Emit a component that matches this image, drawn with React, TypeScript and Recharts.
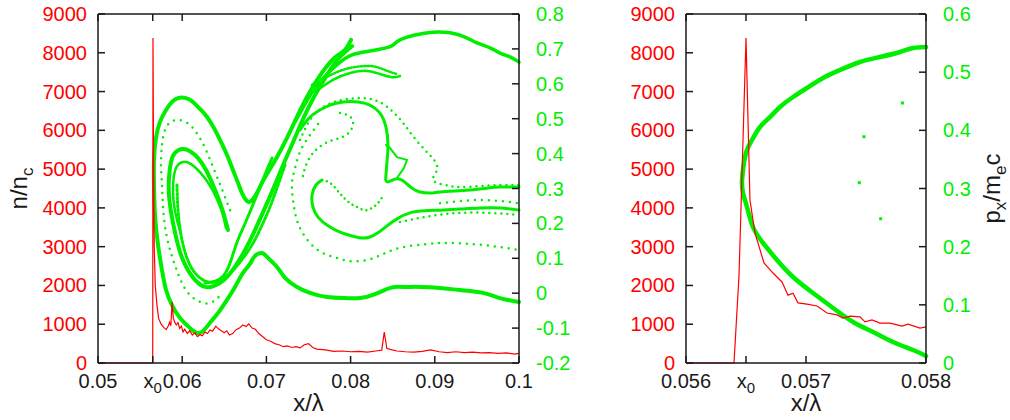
import React from 'react';
import { ComposedChart, Line, Scatter, XAxis, YAxis, ReferenceLine } from 'recharts';

// ---- data ----
const X0 = 0.0565;

const leftXTicks = [0.05, X0, 0.06, 0.07, 0.08, 0.09, 0.1];
const rightXTicks = [0.056, X0, 0.057, 0.058];
const densityTicks = [0, 1000, 2000, 3000, 4000, 5000, 6000, 7000, 8000, 9000];
const momentumTicksLeft = [-0.2, -0.1, 0, 0.1, 0.2, 0.3, 0.4, 0.5, 0.6, 0.7, 0.8];
const momentumTicksRight = [0, 0.1, 0.2, 0.3, 0.4, 0.5, 0.6];

// n/n_c along x, left panel
const densityLeft = [
  [0.05, 0], [0.0565, 0], [0.05653, 8380], [0.0566, 5200], [0.05668, 3000], [0.0568, 2000],
  [0.057, 1500], [0.0572, 1150], [0.0575, 1000], [0.0578, 920], [0.0581, 860], [0.05835, 960],
  [0.0585, 1050], [0.05865, 960], [0.0588, 1570], [0.05895, 1150], [0.0591, 1060], [0.0593, 980],
  [0.0595, 1040], [0.0597, 890], [0.0599, 950], [0.0601, 800], [0.0603, 870], [0.0606, 760],
  [0.0609, 830], [0.0612, 720], [0.0615, 780], [0.0618, 680], [0.0621, 730], [0.0624, 700],
  [0.0627, 800], [0.063, 760], [0.0633, 850], [0.0636, 820], [0.064, 950], [0.0643, 880],
  [0.0646, 840], [0.065, 780], [0.0653, 830], [0.0656, 720], [0.066, 760], [0.0664, 860],
  [0.0668, 900], [0.0672, 980], [0.0676, 940], [0.0679, 1010], [0.0683, 900], [0.0687, 870],
  [0.0691, 760], [0.0695, 690], [0.07, 600], [0.0705, 560], [0.071, 500], [0.0715, 470],
  [0.072, 420], [0.0725, 440], [0.073, 400], [0.0735, 420], [0.074, 390], [0.0745, 470],
  [0.075, 500], [0.0755, 400], [0.076, 360], [0.077, 340], [0.078, 300], [0.079, 310],
  [0.08, 290], [0.081, 300], [0.082, 280], [0.083, 310], [0.0837, 330], [0.084, 800],
  [0.0843, 380], [0.0847, 350], [0.0855, 310], [0.0865, 290], [0.0875, 280], [0.0885, 300],
  [0.0895, 340], [0.0905, 290], [0.0915, 270], [0.0925, 290], [0.0935, 270], [0.0945, 280],
  [0.0955, 260], [0.0965, 270], [0.0975, 250], [0.0985, 260], [0.0995, 230], [0.1, 250],
];

// n/n_c along x, right panel (zoom)
const densityRight = [
  [0.056, 0], [0.0564, 0], [0.056442, 2270], [0.0565, 8380], [0.056533, 4200], [0.056575, 3350],
  [0.05665, 2580], [0.056725, 2320], [0.0568, 2090], [0.05685, 1750], [0.056892, 1800],
  [0.056933, 1550], [0.057008, 1520], [0.057092, 1470], [0.057175, 1290], [0.057258, 1240],
  [0.057308, 1160], [0.057367, 1210], [0.05745, 1190], [0.057492, 1060], [0.05755, 1110],
  [0.057617, 1030], [0.0577, 1030], [0.0578, 950], [0.05785, 1000], [0.05795, 900], [0.058, 930],
];

// phase space p_x/m_e c, left panel
const outerOrbit = [
  [0.1, -0.025], [0.09774, -0.014], [0.09572, 0.001], [0.09299, 0.009], [0.09062, 0.015],
  [0.08824, 0.018], [0.0867, 0.018], [0.08527, 0.018], [0.08432, 0.012], [0.08266, -0.005],
  [0.08112, -0.014], [0.07933, -0.014], [0.0772, -0.011], [0.07518, 0.001], [0.07363, 0.018],
  [0.07221, 0.044], [0.07126, 0.075], [0.07007, 0.104], [0.06948, 0.115], [0.06865, 0.107],
  [0.06805, 0.084], [0.06722, 0.058], [0.06627, 0.018], [0.06532, -0.019], [0.06425, -0.057],
  [0.0633, -0.085], [0.06211, -0.114], [0.06093, -0.1], [0.05974, -0.071], [0.05879, -0.034],
  [0.05808, 0.009], [0.0576, 0.066], [0.05713, 0.138], [0.05677, 0.224], [0.05665, 0.31],
  [0.05665, 0.382], [0.05689, 0.445], [0.05736, 0.491], [0.05808, 0.525], [0.05879, 0.548],
  [0.0595, 0.559], [0.06045, 0.559], [0.06128, 0.548], [0.06211, 0.528], [0.06295, 0.505],
  [0.06378, 0.473], [0.06449, 0.439], [0.06532, 0.396], [0.06603, 0.353], [0.06663, 0.316],
  [0.0671, 0.287], [0.06758, 0.267], [0.06793, 0.261], [0.06841, 0.27], [0.069, 0.293],
  [0.0696, 0.322], [0.07043, 0.356], [0.07126, 0.39], [0.07245, 0.445], [0.07363, 0.505],
  [0.07482, 0.562], [0.07601, 0.611], [0.0772, 0.651], [0.07838, 0.68], [0.07933, 0.697],
  [0.08005, 0.726],
];
const topArc = [
  [0.0734, 0.491], [0.07458, 0.542], [0.07577, 0.588], [0.07696, 0.622], [0.0785, 0.657],
  [0.08017, 0.683], [0.0823, 0.694], [0.0842, 0.703], [0.08504, 0.711], [0.08587, 0.726],
  [0.08765, 0.74], [0.08979, 0.748], [0.09181, 0.746], [0.09359, 0.734], [0.09501, 0.717],
  [0.09656, 0.703], [0.09774, 0.688], [0.09893, 0.677], [0.1, 0.662],
];
const innerLoopA = [
  [0.06544, 0.181], [0.06496, 0.224], [0.06437, 0.267], [0.06366, 0.31], [0.06283, 0.353],
  [0.06188, 0.387], [0.06093, 0.407], [0.05998, 0.413], [0.05914, 0.402], [0.05867, 0.376],
  [0.05843, 0.33], [0.05843, 0.281], [0.05867, 0.233], [0.05903, 0.187], [0.0595, 0.138],
  [0.06009, 0.095], [0.06081, 0.061], [0.06164, 0.035], [0.06271, 0.018], [0.06378, 0.021],
  [0.06496, 0.038], [0.06615, 0.072], [0.06734, 0.118], [0.06853, 0.175], [0.06971, 0.238],
  [0.0709, 0.304], [0.07209, 0.373], [0.07328, 0.439], [0.07447, 0.505], [0.07565, 0.562],
  [0.07684, 0.611], [0.07815, 0.66], [0.07933, 0.691], [0.08017, 0.708],
];
const innerLoopB = [
  [0.0652, 0.187], [0.06473, 0.233], [0.06401, 0.276], [0.06318, 0.313], [0.06211, 0.347],
  [0.06105, 0.37], [0.06009, 0.376], [0.05938, 0.364], [0.05903, 0.339], [0.05891, 0.296],
  [0.05903, 0.253], [0.05938, 0.21], [0.05986, 0.17],
];
const fuzzInner = [
  [0.05938, 0.31], [0.0595, 0.238], [0.05986, 0.167], [0.06045, 0.109], [0.06128, 0.066],
  [0.06247, 0.038], [0.0639, 0.032], [0.06544, 0.052], [0.06686, 0.089], [0.06829, 0.138],
  [0.06948, 0.195], [0.07043, 0.247], [0.07138, 0.31], [0.07221, 0.367],
];
const fuzzDiag = [
  [0.06271, 0.029], [0.06425, 0.038], [0.06544, 0.072], [0.06639, 0.138], [0.06734, 0.193],
  [0.06829, 0.247], [0.06912, 0.296], [0.06995, 0.347], [0.07067, 0.387],
];
const vortexArc = [
  [0.07399, 0.468], [0.07518, 0.505], [0.07637, 0.525], [0.07755, 0.539], [0.0791, 0.548],
  [0.08088, 0.548], [0.0823, 0.539], [0.08349, 0.516], [0.0842, 0.476], [0.08444, 0.425],
  [0.08432, 0.376], [0.0842, 0.339], [0.08432, 0.319], [0.08527, 0.327], [0.08622, 0.322],
  [0.08729, 0.301], [0.08824, 0.29], [0.08943, 0.287], [0.09062, 0.29], [0.0924, 0.293],
  [0.09418, 0.296], [0.0962, 0.301], [0.09774, 0.304], [0.1, 0.304],
];
const hookCurve = [
  [0.0766, 0.324], [0.07589, 0.31], [0.07542, 0.281], [0.07553, 0.247], [0.07613, 0.218],
  [0.07732, 0.193], [0.07874, 0.175], [0.08017, 0.164], [0.08135, 0.158], [0.0823, 0.161],
  [0.08325, 0.173], [0.08432, 0.193], [0.08551, 0.213], [0.08705, 0.23], [0.08884, 0.236],
  [0.09062, 0.238], [0.09299, 0.241], [0.09537, 0.244], [0.09774, 0.244], [0.1, 0.238],
];
const hookTopDots = [
  [0.0766, 0.324], [0.07755, 0.316], [0.07838, 0.296], [0.0791, 0.276], [0.07993, 0.258],
  [0.08076, 0.247], [0.08171, 0.238], [0.08254, 0.244], [0.08325, 0.258], [0.08385, 0.279],
];
const upperBandA = [
  [0.07542, 0.597], [0.07696, 0.617], [0.07874, 0.637], [0.08052, 0.648], [0.0823, 0.651],
  [0.08349, 0.645], [0.08468, 0.634], [0.08551, 0.628],
];
const upperBandB = [
  [0.07577, 0.577], [0.07791, 0.611], [0.07993, 0.631], [0.08195, 0.637], [0.08349, 0.628],
  [0.08492, 0.619], [0.08587, 0.622],
];
const zigzag = [
  [0.0842, 0.425], [0.08468, 0.416], [0.08551, 0.39], [0.0867, 0.382], [0.08634, 0.359],
  [0.08551, 0.33],
];
const ringDots = [
  [0.06568, 0.238], [0.06485, 0.29], [0.0639, 0.347], [0.06283, 0.41], [0.06188, 0.453],
  [0.06093, 0.482], [0.05974, 0.496], [0.05867, 0.491], [0.05796, 0.468], [0.0576, 0.425],
  [0.05748, 0.367], [0.0576, 0.31], [0.05772, 0.247], [0.05808, 0.173], [0.05867, 0.115],
  [0.05926, 0.072], [0.05986, 0.035], [0.06069, 0.001], [0.06188, -0.022], [0.0633, -0.028],
  [0.06473, -0.002],
];
const lowerArcDots = [
  [0.07613, 0.485], [0.07494, 0.445], [0.07399, 0.405], [0.0734, 0.359], [0.07304, 0.316],
  [0.07316, 0.267], [0.07352, 0.218], [0.07411, 0.181], [0.07518, 0.144], [0.07672, 0.115],
  [0.07838, 0.101], [0.07993, 0.092], [0.08195, 0.095], [0.08385, 0.112], [0.08587, 0.13],
  [0.08907, 0.141], [0.09181, 0.144], [0.09572, 0.138], [0.1, 0.124],
];
const outerArcDots = [
  [0.07399, 0.439], [0.07518, 0.496], [0.0766, 0.531], [0.0785, 0.551], [0.08088, 0.559],
  [0.08314, 0.551], [0.08492, 0.522], [0.08622, 0.488], [0.08741, 0.45], [0.08884, 0.41],
  [0.0899, 0.382], [0.09026, 0.353], [0.08979, 0.324], [0.09121, 0.31], [0.09299, 0.304],
  [0.09537, 0.307], [0.09774, 0.31], [0.1, 0.31],
];
const hookDots = [
  [0.07874, 0.516], [0.07981, 0.508], [0.08029, 0.491], [0.08005, 0.468], [0.0791, 0.448],
  [0.07755, 0.436], [0.07613, 0.416], [0.07518, 0.39], [0.07458, 0.359], [0.07423, 0.324],
];
const midRightDots = [
  [0.09062, 0.258], [0.09299, 0.264], [0.09537, 0.267], [0.09774, 0.264], [0.1, 0.258],
];
const lowRightDots = [
  [0.08587, 0.204], [0.08943, 0.221], [0.09299, 0.23], [0.09656, 0.23], [0.1, 0.224],
];

// phase space, right panel (zoom)
const frontBranch = [
  [0.058, 0.5433], [0.057892, 0.5416], [0.057783, 0.5347], [0.057617, 0.5261], [0.05745, 0.5175],
  [0.057283, 0.5037], [0.057142, 0.49], [0.057008, 0.4728], [0.056892, 0.4573], [0.056783, 0.4401],
  [0.0567, 0.4229], [0.056617, 0.4057], [0.05655, 0.3834], [0.056508, 0.366], [0.056483, 0.3439],
  [0.056467, 0.3146], [0.056475, 0.2923], [0.056508, 0.2682], [0.056558, 0.2338], [0.056642, 0.2063],
  [0.056758, 0.1771], [0.056892, 0.1479], [0.057058, 0.1204], [0.057225, 0.0946], [0.057392, 0.0705],
  [0.057558, 0.0533], [0.057725, 0.0361], [0.057892, 0.0224], [0.058, 0.0121],
];
const strayParticles = [
  [0.057803, 0.447], [0.057483, 0.389], [0.057444, 0.31], [0.057622, 0.248],
];

// ---- styling ----
const FONT = '"Liberation Sans", Arial, Helvetica, sans-serif';
const INK = '#1a1a1a';
const RED = '#ff0000';
const GREEN = '#00ee00';
const TICK = 7;
const PLOT_TOP = 14;

const asN = (rows: number[][]) => rows.map(([x, n]) => ({ x, n }));
const asP = (rows: number[][]) => rows.map(([x, p]) => ({ x, p }));

// bottom tick + label, and the mirrored tick on the top edge (gnuplot style)
function BottomTick(props: any) {
  const { x, y, payload } = props;
  const v = payload.value;
  return (
    <g>
      <path d={`M${x},${y}V${y - TICK}`} stroke={INK} strokeWidth={1.5} />
      <path d={`M${x},${PLOT_TOP}V${PLOT_TOP + TICK}`} stroke={INK} strokeWidth={1.5} />
      {v === X0 ? (
        <text x={x} y={y + 25} textAnchor="middle" fontSize={20} fill={INK} fontFamily={FONT}>
          x<tspan dy={5} fontSize={15}>0</tspan>
        </text>
      ) : (
        <text x={x} y={y + 25} textAnchor="middle" fontSize={20} fill={INK} fontFamily={FONT}>
          {String(v)}
        </text>
      )}
    </g>
  );
}

function LeftTick(props: any) {
  const { x, y, payload } = props;
  return (
    <g>
      <path d={`M${x},${y}H${x + TICK}`} stroke={INK} strokeWidth={1.5} />
      <text x={x - 11} y={y} dy={7} textAnchor="end" fontSize={20} fill={RED} fontFamily={FONT}>
        {String(payload.value)}
      </text>
    </g>
  );
}

function RightTick(props: any) {
  const { x, y, payload } = props;
  return (
    <g>
      <path d={`M${x},${y}H${x - TICK}`} stroke={INK} strokeWidth={1.5} />
      <text x={x + 17} y={y} dy={7} textAnchor="start" fontSize={20} fill={GREEN} fontFamily={FONT}>
        {String(payload.value)}
      </text>
    </g>
  );
}

function DensityTitle(props: any) {
  const vb = props.viewBox;
  const cx = vb.x + 27;
  const cy = vb.y + vb.height / 2;
  return (
    <text transform={`translate(${cx},${cy}) rotate(-90)`} textAnchor="middle" fontSize={24} fill={INK} fontFamily={FONT}>
      n/n<tspan dy={6} fontSize={17}>c</tspan>
    </text>
  );
}

function MomentumTitle(props: any) {
  const vb = props.viewBox;
  const cx = vb.x + 74;
  const cy = vb.y + vb.height / 2;
  return (
    <text transform={`translate(${cx},${cy}) rotate(-90)`} textAnchor="middle" fontSize={24} fill={INK} fontFamily={FONT}>
      p<tspan dy={6} fontSize={17}>x</tspan>
      <tspan dy={-6}>/m</tspan>
      <tspan dy={6} fontSize={17}>e</tspan>
      <tspan dy={-6}>c</tspan>
    </text>
  );
}

function XTitle(props: any) {
  const vb = props.viewBox;
  return (
    <text x={vb.x + vb.width / 2} y={vb.y + 48} textAnchor="middle" fontSize={24} fill={INK} fontFamily={FONT}>
      x/λ
    </text>
  );
}

const axisLine = { stroke: INK, strokeWidth: 1.5 };

function greenLine(key: string, data: any[], width: number, dash?: string, curve: any = 'natural') {
  return (
    <Line
      key={key}
      data={data}
      dataKey="p"
      yAxisId="p"
      type={curve}
      stroke={GREEN}
      strokeWidth={width}
      strokeDasharray={dash}
      strokeLinecap="round"
      dot={false}
      activeDot={false}
      isAnimationActive={false}
    />
  );
}

function Panel({ xDomain, xTicks, pDomain, pTicks, children, width, leftW, rightW, leftTitle, rightTitle }: any) {
  return (
    <ComposedChart width={width} height={420} margin={{ top: PLOT_TOP, right: 0, bottom: 0, left: 0 }}>
      <XAxis
        dataKey="x"
        type="number"
        domain={xDomain}
        ticks={xTicks}
        interval={0}
        height={57}
        tickSize={0}
        tickMargin={0}
        tickLine={false}
        axisLine={axisLine}
        tick={<BottomTick />}
        label={XTitle}
      />
      <YAxis
        yAxisId="n"
        type="number"
        domain={[0, 9000]}
        ticks={densityTicks}
        interval={0}
        width={leftW}
        tickSize={0}
        tickMargin={0}
        tickLine={false}
        axisLine={axisLine}
        tick={<LeftTick />}
        label={leftTitle ? DensityTitle : undefined}
      />
      <YAxis
        yAxisId="p"
        orientation="right"
        type="number"
        domain={pDomain}
        ticks={pTicks}
        interval={0}
        width={rightW}
        tickSize={0}
        tickMargin={0}
        tickLine={false}
        axisLine={axisLine}
        tick={<RightTick />}
        label={rightTitle ? MomentumTitle : undefined}
      />
      <ReferenceLine yAxisId="n" y={9000} stroke={INK} strokeWidth={1.5} ifOverflow="visible" />
      {children}
    </ComposedChart>
  );
}

export default function App() {
  return (
    <div style={{ position: 'absolute', left: 0, top: 0, width: 1010, height: 420, background: '#fff', fontFamily: FONT }}>
      <div style={{ position: 'absolute', left: 0, top: 0 }}>
        <Panel xDomain={[0.05, 0.1]} xTicks={leftXTicks} pDomain={[-0.2, 0.8]} pTicks={momentumTicksLeft} width={589} leftW={98} rightW={70} leftTitle>
          {greenLine('outer', asP(outerOrbit), 4)}
          {greenLine('top', asP(topArc), 3.5)}
          {greenLine('loopA', asP(innerLoopA), 4)}
          {greenLine('loopB', asP(innerLoopB), 2.5)}
          {greenLine('fuzzIn', asP(fuzzInner), 3, '2 2')}
          {greenLine('fuzzDiag', asP(fuzzDiag), 3, '2 1.5')}
          {greenLine('vortex', asP(vortexArc), 3)}
          {greenLine('hook', asP(hookCurve), 3)}
          {greenLine('hookTop', asP(hookTopDots), 2.5, '0 5')}
          {greenLine('bandA', asP(upperBandA), 2.5, '1.5 2')}
          {greenLine('bandB', asP(upperBandB), 2.5)}
          {greenLine('zig', asP(zigzag), 2, undefined, 'linear')}
          {greenLine('ring', asP(ringDots), 2.5, '0 7')}
          {greenLine('lowArc', asP(lowerArcDots), 2.5, '0 7')}
          {greenLine('outArc', asP(outerArcDots), 2.5, '0 6')}
          {greenLine('hookDots', asP(hookDots), 2.5, '0 6')}
          {greenLine('midR', asP(midRightDots), 2.5, '0 7')}
          {greenLine('lowR', asP(lowRightDots), 2.5, '0 6')}
          <Line
            data={asN(densityLeft)}
            dataKey="n"
            yAxisId="n"
            type="linear"
            stroke={RED}
            strokeWidth={1.2}
            dot={false}
            activeDot={false}
            isAnimationActive={false}
          />
        </Panel>
      </div>
      <div style={{ position: 'absolute', left: 590, top: 0 }}>
        <Panel xDomain={[0.056, 0.058]} xTicks={rightXTicks} pDomain={[0, 0.6]} pTicks={momentumTicksRight} width={420} leftW={96} rightW={84} rightTitle>
          {greenLine('front', asP(frontBranch), 4.5)}
          <Scatter
            data={asP(strayParticles)}
            dataKey="p"
            yAxisId="p"
            isAnimationActive={false}
            shape={(s: any) => <rect x={s.cx - 1.5} y={s.cy - 1.5} width={3} height={3} fill={GREEN} />}
          />
          <Line
            data={asN(densityRight)}
            dataKey="n"
            yAxisId="n"
            type="linear"
            stroke={RED}
            strokeWidth={1.2}
            dot={false}
            activeDot={false}
            isAnimationActive={false}
          />
        </Panel>
      </div>
    </div>
  );
}
